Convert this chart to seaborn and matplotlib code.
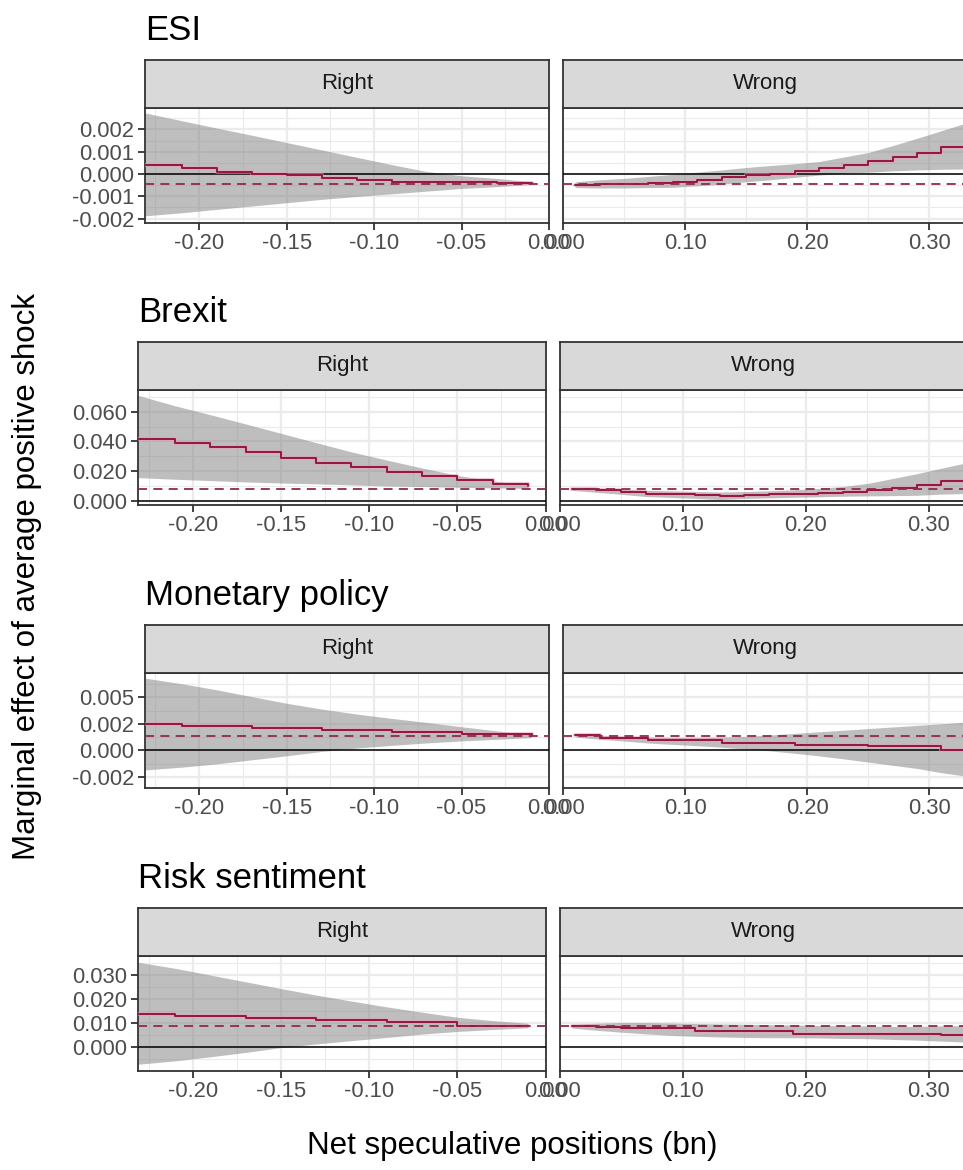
import matplotlib
matplotlib.use("Agg")
import matplotlib.pyplot as plt
from matplotlib.ticker import FixedLocator
import pandas as pd
import seaborn as sns

# ---------------------------------------------------------------------------
# Data: marginal effect of an average positive shock, by positioning side
# ---------------------------------------------------------------------------
LEFT_X = [-0.231, -0.21, -0.19, -0.17, -0.15, -0.13, -0.11, -0.09, -0.07, -0.05, -0.03, -0.01]
RIGHT_X = [0.01, 0.03, 0.05, 0.07, 0.09, 0.11, 0.13, 0.15, 0.17, 0.19, 0.21, 0.23,
           0.25, 0.27, 0.29, 0.31, 0.335]

SHOCKS = ["ESI", "Brexit", "Monetary policy", "Risk sentiment"]
SIDES = ["Right", "Wrong"]

# ESI
esi_right_fit = [0.0004, 0.00025, 0.0001, 0.0, -0.00005, -0.0002, -0.00027, -0.00035,
                 -0.00035, -0.00035, -0.00042, -0.00042]
esi_right_lo = [-0.00188, -0.00174, -0.00159, -0.00144, -0.00129, -0.00114, -0.00101,
                -0.00089, -0.00077, -0.00065, -0.00057, -0.00047]
esi_right_hi = [0.00274, 0.00239, 0.00206, 0.00174, 0.00141, 0.00108, 0.00075, 0.00042,
                0.00011, -0.00008, -0.0002, -0.00035]
esi_wrong_fit = [-0.00049, -0.00047, -0.00046, -0.00041, -0.00035, -0.00026, -0.00014,
                 -0.00005, 0.00002, 0.00012, 0.00029, 0.00041, 0.0006, 0.00075, 0.00093,
                 0.0012, 0.0014]
esi_wrong_lo = [-0.00061, -0.00063, -0.00063, -0.00061, -0.0006, -0.00053, -0.00046,
                -0.00035, -0.00026, -0.00015, -0.00005, 0.00003, 0.00008, 0.00014,
                0.00018, 0.00021, 0.00023]
esi_wrong_hi = [-0.00035, -0.00026, -0.0002, -0.00011, -0.00002, 0.00008, 0.00018,
                0.00029, 0.00038, 0.00046, 0.00056, 0.00076, 0.00096, 0.00127, 0.0016,
                0.00194, 0.00237]
esi_avg = -0.00046

# Brexit
brexit_right_fit = [0.0416, 0.0389, 0.0360, 0.0326, 0.0292, 0.0258, 0.0227, 0.0198,
                    0.0169, 0.0139, 0.0117, 0.0099]
brexit_right_lo = [0.0157, 0.0146, 0.0137, 0.0128, 0.0121, 0.0115, 0.0108, 0.0101,
                   0.0097, 0.0092, 0.0088, 0.0085]
brexit_right_hi = [0.0710, 0.0640, 0.0580, 0.0518, 0.0455, 0.0392, 0.0330, 0.0275,
                   0.0222, 0.0172, 0.0135, 0.0108]
brexit_wrong_fit = [0.0081, 0.0073, 0.0062, 0.0050, 0.0046, 0.0040, 0.0034, 0.0040,
                    0.0044, 0.0048, 0.0053, 0.0062, 0.0072, 0.0088, 0.0106, 0.0133, 0.0158]
brexit_wrong_lo = [0.0072, 0.0058, 0.0045, 0.0030, 0.0024, 0.0018, 0.0010, 0.0017,
                   0.0021, 0.0025, 0.0028, 0.0032, 0.0034, 0.0036, 0.0038, 0.0046, 0.0051]
brexit_wrong_hi = [0.0090, 0.0086, 0.0079, 0.0072, 0.0068, 0.0064, 0.0060, 0.0063,
                   0.0068, 0.0075, 0.0084, 0.0097, 0.0118, 0.0150, 0.0183, 0.0220, 0.0265]
brexit_avg = 0.0083

# Monetary policy
mp_right_fit = [0.0025, 0.00234, 0.00234, 0.00212, 0.00212, 0.00196, 0.00196, 0.00174,
                0.00174, 0.00158, 0.00158, 0.00142]
mp_right_lo = [-0.00184, -0.00158, -0.00127, -0.00089, -0.00051, -0.0001, 0.00022,
               0.00047, 0.0007, 0.00089, 0.00104, 0.0012]
mp_right_hi = [0.0068, 0.00627, 0.0057, 0.00506, 0.00443, 0.00389, 0.00342, 0.00301,
               0.00263, 0.00222, 0.00184, 0.00146]
mp_wrong_fit = [0.0014, 0.00119, 0.00119, 0.00094, 0.00094, 0.00094, 0.00072, 0.00072,
                0.00072, 0.00053, 0.00053, 0.00053, 0.00038, 0.00038, 0.00038, 0.00006,
                0.00006]
mp_wrong_lo = [0.00125, 0.00106, 0.00088, 0.00069, 0.00056, 0.00044, 0.0003, 0.00012,
               -0.00005, -0.00028, -0.00052, -0.0008, -0.0011, -0.0014, -0.0017, -0.0021,
               -0.0025]
mp_wrong_hi = [0.0015, 0.0014, 0.00131, 0.00125, 0.00122, 0.00122, 0.00125, 0.00132,
               0.00145, 0.0016, 0.00175, 0.0019, 0.00205, 0.0022, 0.00235, 0.0025, 0.0027]
mp_avg = 0.00133

# Risk sentiment
risk_right_fit = [0.0140, 0.0132, 0.0132, 0.0122, 0.0122, 0.0112, 0.0112, 0.0104,
                  0.0104, 0.0090, 0.0090, 0.0090]
risk_right_lo = [-0.0070, -0.0056, -0.0039, -0.0021, -0.0001, 0.0014, 0.0028, 0.0041,
                 0.0055, 0.0066, 0.0074, 0.0081]
risk_right_hi = [0.0353, 0.0328, 0.0300, 0.0272, 0.0244, 0.0217, 0.0192, 0.0168,
                 0.0146, 0.0125, 0.0111, 0.0100]
risk_wrong_fit = [0.0089, 0.0085, 0.0079, 0.0079, 0.0079, 0.0067, 0.0067, 0.0067,
                  0.0067, 0.0057, 0.0057, 0.0057, 0.0057, 0.0057, 0.0057, 0.0053, 0.0053]
risk_wrong_lo = [0.0080, 0.0071, 0.0063, 0.0056, 0.0050, 0.0046, 0.0043, 0.0041,
                 0.0040, 0.0040, 0.0039, 0.0037, 0.0036, 0.0033, 0.0030, 0.0026, 0.0021]
risk_wrong_hi = [0.0094, 0.0100, 0.0103, 0.0103, 0.0101, 0.0099, 0.0097, 0.0096,
                 0.0094, 0.0093, 0.0091, 0.0090, 0.0089, 0.0087, 0.0087, 0.0089, 0.0091]
risk_avg = 0.0087

# Axis breaks and labels
LEFT_XTICKS = [-0.20, -0.15, -0.10, -0.05, 0.00]
LEFT_XLABELS = ["-0.20", "-0.15", "-0.10", "-0.05", "0.00"]
RIGHT_XTICKS = [0.00, 0.10, 0.20, 0.30]
RIGHT_XLABELS = ["0.00", "0.10", "0.20", "0.30"]

esi_yticks = [-0.002, -0.001, 0.0, 0.001, 0.002]
esi_ylabels = ["-0.002", "-0.001", "0.000", "0.001", "0.002"]
brexit_yticks = [0.0, 0.02, 0.04, 0.06]
brexit_ylabels = ["0.000", "0.020", "0.040", "0.060"]
mp_yticks = [-0.0025, 0.0, 0.0025, 0.005]
mp_ylabels = ["-0.002", "0.000", "0.002", "0.005"]
risk_yticks = [0.0, 0.01, 0.02, 0.03]
risk_ylabels = ["0.000", "0.010", "0.020", "0.030"]

# ---------------------------------------------------------------------------
# Styling
# ---------------------------------------------------------------------------
sns.set_theme(style="white")
plt.rcParams["font.family"] = ["Liberation Sans", "DejaVu Sans"]

GRID = "#EBEBEB"
BORDER = "#333333"
STRIP_FILL = "#D9D9D9"
TICK_TXT = "#4D4D4D"
LINE = "#961443"
HALO = "#E6A0B4"
DASH = "#8E2A52"
RIBBON = "#7F7F7F"

W, H = 963, 1170
fig = plt.figure(figsize=(W / 100, H / 100), dpi=100)


def rect(x0, y0, w, h):
    """Pixel box (top-left origin) to figure fraction."""
    return [x0 / W, 1 - (y0 + h) / H, w / W, h / H]


def midpoints(ticks, lo, hi):
    step = ticks[1] - ticks[0]
    cand = [ticks[0] - step / 2] + [t + step / 2 for t in ticks]
    return [c for c in cand if lo <= c <= hi]


def style_axes(ax):
    for s in ax.spines.values():
        s.set_visible(True)
        s.set_color(BORDER)
        s.set_linewidth(1.3)
    ax.set_facecolor("white")


def draw_panel(ax, x, lo, hi, fit, avg, xlim, xticks, xlabels, ylim, yticks, ylabels,
               show_y):
    style_axes(ax)
    ax.set_xlim(*xlim)
    ax.set_ylim(*ylim)
    ax.xaxis.set_major_locator(FixedLocator(xticks))
    ax.set_xticklabels(xlabels)
    ax.xaxis.set_minor_locator(FixedLocator(midpoints(xticks, *xlim)))
    ax.yaxis.set_major_locator(FixedLocator(yticks))
    ax.set_yticklabels(ylabels)
    ax.yaxis.set_minor_locator(FixedLocator(midpoints(yticks, *ylim)))
    ax.grid(True, which="major", color=GRID, linewidth=1.6, zorder=0)
    ax.grid(True, which="minor", color=GRID, linewidth=0.8, zorder=0)
    ax.set_axisbelow(True)

    df = pd.DataFrame({"x": x, "lo": lo, "hi": hi, "fit": fit})
    ax.fill_between(df["x"], df["lo"], df["hi"], color=RIBBON, alpha=0.5,
                    linewidth=0, zorder=2)
    ax.axhline(0, color="black", linewidth=1.1, zorder=3)
    sns.lineplot(data=df, x="x", y="fit", ax=ax, color=HALO, linewidth=3.0, alpha=0.55,
                 drawstyle="steps-post", estimator=None, zorder=4)
    sns.lineplot(data=df, x="x", y="fit", ax=ax, color=LINE, linewidth=1.4,
                 drawstyle="steps-post", estimator=None, zorder=5)
    ax.axhline(avg, color=DASH, linewidth=1.3, linestyle=(0, (5, 3.5)), zorder=6)

    ax.set_xlabel("")
    ax.set_ylabel("")
    ax.tick_params(axis="both", which="major", length=5, width=1.3, color=BORDER,
                   labelsize=15.8, labelcolor=TICK_TXT, pad=2.5)
    ax.tick_params(axis="both", which="minor", length=0)
    ax.tick_params(axis="x", bottom=True, top=False)
    if show_y:
        ax.tick_params(axis="y", left=True, right=False)
    else:
        ax.tick_params(axis="y", left=False, right=False, labelleft=False)


def draw_strip(x0, y0, w, h, label):
    sax = fig.add_axes(rect(x0, y0, w, h))
    style_axes(sax)
    sax.set_facecolor(STRIP_FILL)
    sax.set_xticks([])
    sax.set_yticks([])
    sax.text(0.5, 0.5, label, transform=sax.transAxes, ha="center", va="center",
             fontsize=16, color="#1A1A1A")


rows = [
    dict(title="ESI", left=145, top=60, ylim=(-0.0022, 0.00296),
         yticks=esi_yticks, ylabels=esi_ylabels, avg=esi_avg,
         right=(esi_right_lo, esi_right_hi, esi_right_fit),
         wrong=(esi_wrong_lo, esi_wrong_hi, esi_wrong_fit)),
    dict(title="Brexit", left=138, top=342, ylim=(-0.0027, 0.0746),
         yticks=brexit_yticks, ylabels=brexit_ylabels, avg=brexit_avg,
         right=(brexit_right_lo, brexit_right_hi, brexit_right_fit),
         wrong=(brexit_wrong_lo, brexit_wrong_hi, brexit_wrong_fit)),
    dict(title="Monetary policy", left=145, top=625, ylim=(-0.00354, 0.00728),
         yticks=mp_yticks, ylabels=mp_ylabels, avg=mp_avg,
         right=(mp_right_lo, mp_right_hi, mp_right_fit),
         wrong=(mp_wrong_lo, mp_wrong_hi, mp_wrong_fit)),
    dict(title="Risk sentiment", left=138, top=908, ylim=(-0.0098, 0.0379),
         yticks=risk_yticks, ylabels=risk_ylabels, avg=risk_avg,
         right=(risk_right_lo, risk_right_hi, risk_right_fit),
         wrong=(risk_wrong_lo, risk_wrong_hi, risk_wrong_fit)),
]

STRIP_H, PANEL_H, GAP, RIGHT_EDGE = 48, 115, 14, 967
LEFT_XLIM = (-0.231, 0.0)
RIGHT_XLIM = (0.0, 0.331)

for row in rows:
    left, top = row["left"], row["top"]
    pw = (RIGHT_EDGE - left - GAP) / 2
    x_wrong = left + pw + GAP
    ptop = top + STRIP_H

    ax_r = fig.add_axes(rect(left, ptop, pw, PANEL_H))
    lo, hi, fit = row["right"]
    draw_panel(ax_r, LEFT_X, lo, hi, fit, row["avg"], LEFT_XLIM, LEFT_XTICKS,
               LEFT_XLABELS, row["ylim"], row["yticks"], row["ylabels"], True)

    ax_w = fig.add_axes(rect(x_wrong, ptop, pw, PANEL_H))
    lo, hi, fit = row["wrong"]
    draw_panel(ax_w, RIGHT_X, lo, hi, fit, row["avg"], RIGHT_XLIM, RIGHT_XTICKS,
               RIGHT_XLABELS, row["ylim"], row["yticks"], row["ylabels"], False)

    draw_strip(left, top, pw, STRIP_H, SIDES[0])
    draw_strip(x_wrong, top, pw, STRIP_H, SIDES[1])

    fig.text(left / W, 1 - (top - 20) / H, row["title"], ha="left", va="baseline",
             fontsize=25, color="black")

fig.text(512 / W, 1 - 1154 / H, "Net speculative positions (bn)", ha="center",
         va="baseline", fontsize=22.5, color="black")
fig.text(27 / W, 1 - 576 / H, "Marginal effect of average positive shock", ha="center",
         va="center", rotation=90, fontsize=22.5, color="black")

fig.savefig("out.png", dpi=100)
